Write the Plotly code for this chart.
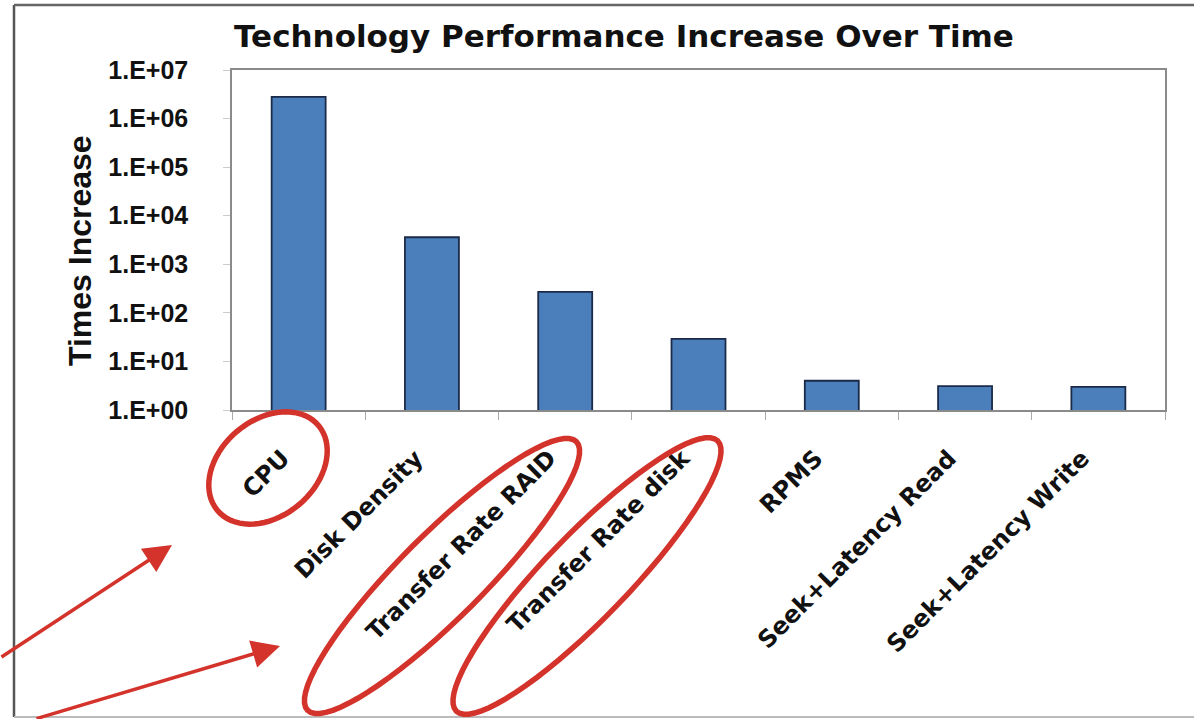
import numpy as np
import plotly.graph_objects as go

categories = ["CPU", "Disk Density", "Transfer Rate RAID", "Transfer Rate disk",
              "RPMS", "Seek+Latency Read", "Seek+Latency Write"]
times_increase = [2.8e6, 3600, 270, 29, 4.0, 3.1, 3.0]
tick_vals = [1, 10, 100, 1e3, 1e4, 1e5, 1e6, 1e7]
tick_text = ["1.E+00", "1.E+01", "1.E+02", "1.E+03", "1.E+04", "1.E+05", "1.E+06", "1.E+07"]

W, H = 1194, 719
L, R, T, B = 232, 1165, 70, 410
FONT = "Liberation Sans, Arial, sans-serif"
WIDE = "DejaVu Sans, Liberation Sans, sans-serif"
RED = "#d3332b"


def px(x):
    return (x - L) / (R - L)


def py(y):
    return (B - y) / (B - T)


def ellipse_path(cx, cy, a, b, theta_deg, n=72):
    th = np.radians(theta_deg)
    t = np.linspace(0, 2 * np.pi, n, endpoint=False)
    xs = cx + a * np.cos(t) * np.cos(th) - b * np.sin(t) * np.sin(th)
    ys = cy - (a * np.cos(t) * np.sin(th) + b * np.sin(t) * np.cos(th))
    pts = [f"{px(x):.5f},{py(y):.5f}" for x, y in zip(xs, ys)]
    return "M" + " L".join(pts) + " Z"


fig = go.Figure(go.Bar(
    x=categories, y=times_increase,
    marker=dict(color="#4b7fbc", line=dict(color="#1b2a48", width=1.8)),
))

shapes = [
    # outer chart frame
    dict(type="line", xref="paper", yref="paper", x0=px(14), x1=px(14), y0=py(5), y1=py(717),
         line=dict(color="#555555", width=2.5)),
    dict(type="line", xref="paper", yref="paper", x0=px(14), x1=px(1200), y0=py(5), y1=py(5),
         line=dict(color="#666666", width=2.5)),
    dict(type="line", xref="paper", yref="paper", x0=px(14), x1=px(1200), y0=py(717), y1=py(717),
         line=dict(color="#bbbbbb", width=2)),
    # red ellipses
    dict(type="path", xref="paper", yref="paper", path=ellipse_path(268, 468, 66, 48, 40),
         line=dict(color=RED, width=5.5)),
    dict(type="path", xref="paper", yref="paper", path=ellipse_path(442, 576, 190, 42, 45),
         line=dict(color=RED, width=5.5)),
    dict(type="path", xref="paper", yref="paper", path=ellipse_path(587, 576, 188, 42, 46),
         line=dict(color=RED, width=5.5)),
]

annotations = [
    dict(text="<b>Times Increase</b>", xref="paper", yref="paper", x=px(80), y=py(251),
         xanchor="center", yanchor="middle",
         textangle=-90, showarrow=False, font=dict(family=FONT, size=32, color="#111111")),
    dict(text="", xref="paper", yref="paper", x=px(172), y=py(545), ax=-175, ay=113,
         showarrow=True, arrowhead=2, arrowsize=1.6, arrowwidth=3.5, arrowcolor=RED, standoff=0),
    dict(text="", xref="paper", yref="paper", x=px(280), y=py(646), ax=-245, ay=75,
         showarrow=True, arrowhead=2, arrowsize=1.6, arrowwidth=3.5, arrowcolor=RED, standoff=0),
]

fig.update_layout(
    width=W, height=H,
    margin=dict(l=L, r=W - R, t=T, b=H - B, autoexpand=False),
    paper_bgcolor="white", plot_bgcolor="white",
    bargap=0.595,
    showlegend=False,
    title=dict(text="<b>Technology Performance Increase Over Time</b>",
               x=624 / W, xanchor="center", xref="container",
               y=1 - 36 / H, yanchor="middle", yref="container",
               font=dict(family=WIDE, size=31, color="#111111")),
    font=dict(family=FONT, color="#111111"),
    shapes=shapes,
    annotations=annotations,
)

fig.update_xaxes(
    type="category", tickangle=-45,
    tickfont=dict(family=WIDE, size=24, color="#111111"),
    ticks="outside", tickson="boundaries", ticklen=8, tickcolor="#aaaaaa",
    ticklabelstandoff=23, ticklabelshift=-16,
    showline=True, linecolor="#8a8a8a", linewidth=1.5, mirror=True,
    showgrid=False,
    tickprefix="<b>", ticksuffix="</b>",
)
fig.update_yaxes(
    type="log", range=[0, 7],
    tickvals=tick_vals, ticktext=[f"<b>{t}</b>" for t in tick_text],
    tickfont=dict(family=FONT, size=25, color="#111111"),
    ticks="outside", ticklen=7, tickcolor="#cccccc", ticklabelstandoff=30,
    showline=True, linecolor="#8a8a8a", linewidth=1.5, mirror=True,
    showgrid=False, zeroline=False,
)

fig.write_html("out.html", config={"displayModeBar": False},
               post_script="document.body.style.margin='0px';")
